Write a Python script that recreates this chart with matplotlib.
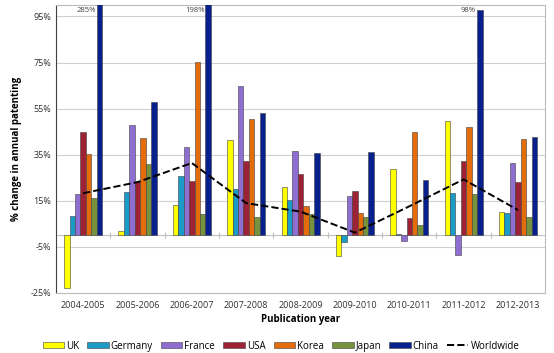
import numpy as np
from matplotlib import pyplot as plt

years = ["2004-2005", "2005-2006", "2006-2007", "2007-2008", "2008-2009",
         "2009-2010", "2010-2011", "2011-2012", "2012-2013"]

uk = [-23, 2, 13.3, 41.5, 21.2, -8.9, 28.6, 49.5, 10.3]
germany = [8.2, 18.9, 25.9, 20.2, 15.4, -3, 0.5, 18.6, 9.6]
france = [18, 47.7, 38.3, 65, 36.7, 17.3, -2.4, -8.5, 31.4]
usa = [44.7, 23.7, 23.8, 32.1, 26.7, 19.3, 7.7, 32.1, 23]
korea = [35.3, 42.3, 75.1, 50.7, 12.8, 9.6, 44.7, 47, 42]
japan = [16.4, 30.8, 9.2, 7.9, 9.3, 7.9, 4.4, 18, 7.9]
china = [285, 57.9, 198, 53.1, 35.6, 36.2, 24.1, 98, 42.7]
worldwide = [18.3, 23.1, 31.4, 14, 10.3, 1.2, 12.6, 24.3, 11]

series = [("UK", uk, "#ffff00"), ("Germany", germany, "#1b9bc8"),
          ("France", france, "#8e6fd1"), ("USA", usa, "#9e2236"),
          ("Korea", korea, "#e46c0a"), ("Japan", japan, "#76923c"),
          ("China", china, "#08208e")]

plt.rcParams["font.family"] = ["Open Sans", "DejaVu Sans"]

fig = plt.figure(figsize=(5.54, 3.53), dpi=100)
ax = fig.add_axes([0.101, 0.17, 0.883, 0.816])

x = np.arange(len(years))
w = 0.1
for i, (name, vals, col) in enumerate(series):
    ax.bar(x + (i - 3) * w, vals, w, color=col, edgecolor="#404040",
           linewidth=0.4, label=name, zorder=3)

ax.plot(x, worldwide, "k--", lw=1.4, label="Worldwide", zorder=4)

# china values beyond the top of the axis
for xi, v in zip(x, china):
    if v >= 98:
        ax.text(xi + 3 * w - 0.07, 97.5, "%d%%" % v, ha="right",
                va="center", fontsize=5.5, color="#404040", zorder=5)

ax.set_xlim(-0.5, len(years) - 0.5)
ax.set_ylim(-25, 100)
ax.set_yticks(np.arange(-25, 100, 20))
ax.set_yticklabels(["%d%%" % t for t in np.arange(-25, 100, 20)])
ax.yaxis.grid(True, color="#d0d0d0", lw=0.8, zorder=0)
ax.set_xticks(x)
ax.set_xticklabels(years)
ax.tick_params(axis="x", length=0, labelsize=6.5, pad=6, colors="#303030")
ax.tick_params(axis="y", length=0, labelsize=6.5, colors="#303030")
for s in ["top", "right"]:
    ax.spines[s].set_color("#bbbbbb")
ax.spines["bottom"].set_color("#bbbbbb")
ax.spines["left"].set_color("#404040")

# category axis at zero
ax.axhline(0, color="#c0c0c0", lw=0.8, zorder=2)
sec = ax.secondary_xaxis(0.2)
sec.set_xticks(np.arange(0.5, len(years) - 1, 1))
sec.tick_params(length=4, direction="inout", labelbottom=False,
                color="#c0c0c0")
sec.spines["bottom"].set_visible(False)

ax.set_xlabel("Publication year", fontsize=7, fontweight="bold", labelpad=3)
ax.set_ylabel("% change in annual patenting", fontsize=7, fontweight="bold",
              labelpad=6)

h, l = ax.get_legend_handles_labels()
h = h[1:] + h[:1]
l = l[1:] + l[:1]
ax.legend(h, l, loc="upper center", bbox_to_anchor=(0.46, -0.135), ncol=8,
          frameon=False, fontsize=7, handlelength=2.2, handleheight=0.55,
          columnspacing=0.85, handletextpad=0.2)

fig.savefig("out.png", dpi=100)
